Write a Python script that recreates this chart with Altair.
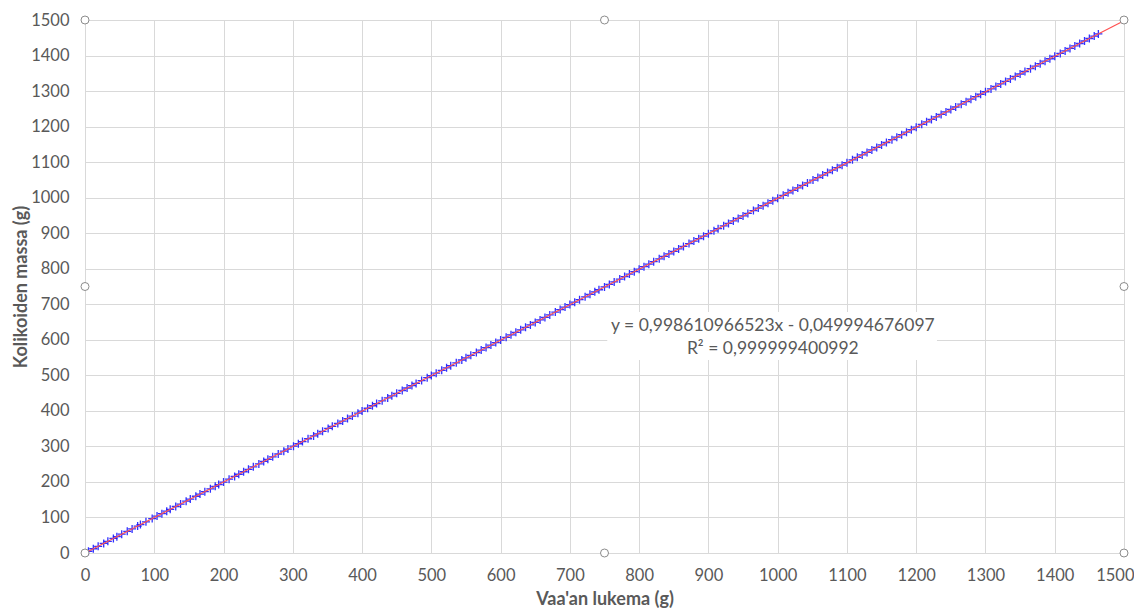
import altair as alt
import pandas as pd

x_vals = [5, 12, 19, 27, 33, 41, 46, 53, 61, 68, 76, 80, 88, 97, 104, 111, 118, 123, 131, 138,
          146, 152, 160, 166, 173, 181, 188, 193, 200, 208, 216, 222, 229, 236, 243, 251, 258, 264, 271, 279,
          287, 293, 301, 308, 314, 322, 330, 336, 343, 351, 357, 365, 372, 379, 386, 394, 400, 408, 415, 421,
          429, 437, 443, 450, 458, 465, 472, 478, 486, 494, 500, 507, 515, 522, 528, 536, 544, 550, 557, 565,
          572, 579, 586, 593, 600, 608, 615, 622, 629, 636, 643, 650, 657, 664, 671, 679, 686, 693, 700, 707,
          714, 722, 729, 736, 742, 750, 757, 764, 772, 779, 786, 793, 800, 807, 814, 821, 829, 836, 843, 850,
          857, 864, 872, 879, 886, 893, 900, 908, 914, 922, 929, 936, 943, 950, 957, 965, 972, 979, 986, 993,
          1000, 1008, 1015, 1022, 1029, 1036, 1043, 1051, 1058, 1065, 1072, 1079, 1086, 1093, 1100, 1108, 1115, 1122, 1129, 1136,
          1143, 1150, 1157, 1165, 1172, 1179, 1186, 1193, 1200, 1208, 1215, 1222, 1229, 1236, 1243, 1250, 1257, 1265, 1272, 1279,
          1286, 1293, 1300, 1308, 1315, 1322, 1329, 1336, 1343, 1350, 1357, 1365, 1372, 1379, 1386, 1393, 1400, 1408, 1415, 1422,
          1429, 1436, 1443, 1450, 1457, 1463]

y_vals = [4.9, 11.9, 18.9, 26.9, 32.9, 40.9, 45.9, 52.9, 60.9, 67.8, 75.8, 79.9, 87.8, 96.8, 103.8, 110.8, 117.8, 122.8, 130.8, 137.7,
          145.8, 151.7, 159.7, 165.7, 172.7, 180.7, 187.7, 192.7, 199.7, 207.7, 215.6, 221.6, 228.6, 235.6, 242.6, 250.6, 257.6, 263.6, 270.6, 278.6,
          286.5, 292.5, 300.5, 307.5, 313.5, 321.5, 329.5, 335.5, 342.5, 350.5, 356.4, 364.4, 371.4, 378.4, 385.4, 393.4, 399.4, 407.4, 414.4, 420.4,
          428.4, 436.3, 442.3, 449.3, 457.3, 464.3, 471.3, 477.3, 485.3, 493.3, 499.2, 506.2, 514.2, 521.2, 527.2, 535.2, 543.2, 549.2, 556.2, 564.1,
          571.1, 578.1, 585.1, 592.1, 599.1, 607.1, 614.1, 621.1, 628.1, 635.1, 642.0, 649.0, 656.0, 663.0, 670.0, 678.0, 685.0, 692.0, 699.0, 706.0,
          712.9, 720.9, 727.9, 734.9, 740.9, 748.9, 755.9, 762.9, 770.9, 777.9, 784.9, 791.8, 798.8, 805.8, 812.8, 819.8, 827.8, 834.8, 841.8, 848.8,
          855.8, 862.7, 870.7, 877.7, 884.7, 891.7, 898.7, 906.7, 912.7, 920.7, 927.6, 934.6, 941.6, 948.6, 955.6, 963.6, 970.6, 977.6, 984.6, 991.6,
          998.6, 1006.5, 1013.5, 1020.5, 1027.5, 1034.5, 1041.5, 1049.5, 1056.5, 1063.5, 1070.5, 1077.4, 1084.4, 1091.4, 1098.4, 1106.4, 1113.4, 1120.4, 1127.4, 1134.4,
          1141.4, 1148.3, 1155.3, 1163.3, 1170.3, 1177.3, 1184.3, 1191.3, 1198.3, 1206.3, 1213.3, 1220.2, 1227.2, 1234.2, 1241.2, 1248.2, 1255.2, 1263.2, 1270.2, 1277.2,
          1284.2, 1291.1, 1298.1, 1306.1, 1313.1, 1320.1, 1327.1, 1334.1, 1341.1, 1348.1, 1355.1, 1363.0, 1370.0, 1377.0, 1384.0, 1391.0, 1398.0, 1406.0, 1413.0, 1420.0,
          1427.0, 1433.9, 1440.9, 1447.9, 1454.9, 1460.9]

tick_values = [0, 100, 200, 300, 400, 500, 600, 700, 800, 900, 1000, 1100, 1200, 1300, 1400, 1500]

# Excel selection handles (in data coordinates)
handle_x = [0, 750, 1500, 0, 1500, 0, 750, 1500]
handle_y = [1500, 1500, 1500, 750, 750, 0, 0, 0]

eq_lines = ["y = 0,998610966523x - 0,049994676097", "R² = 0,999999400992"]
eq_x = [993, 993]
eq_y = [640, 573]

label_box = {"x": [754], "x2": [1230], "y": [543], "y2": [678]}

FONT = "Lato"
GRAY = "#595959"

df = pd.DataFrame({"x": x_vals, "y": y_vals})
df_handles = pd.DataFrame({"x": handle_x, "y": handle_y})
df_eq = pd.DataFrame({"x": eq_x, "y": eq_y, "t": eq_lines})
df_box = pd.DataFrame(label_box)

xscale = alt.Scale(domain=[0, 1500], nice=False)
yscale = alt.Scale(domain=[0, 1500], nice=False)

common_axis = dict(values=tick_values, format="d", labelOverlap=False, labelFlush=False,
                   grid=True, gridColor="#d9d9d9", domain=False, ticks=False,
                   labelFont=FONT, labelFontSize=16.5, labelColor=GRAY,
                   titleFont=FONT, titleFontSize=18, titleFontWeight="bold", titleColor=GRAY)
xaxis = alt.Axis(title="Vaa'an lukema (g)", labelPadding=14, titlePadding=7,
                 labelAlign={"condition": {"test": "datum.value === 1500", "value": "right"},
                             "value": "center"},
                 labelOffset={"condition": {"test": "datum.value === 1500", "value": 10},
                              "value": 0},
                 **common_axis)
yaxis = alt.Axis(title="Kolikoiden massa (g)", labelPadding=16, titlePadding=0, **common_axis)

X = alt.X("x:Q", scale=xscale, axis=xaxis)
Y = alt.Y("y:Q", scale=yscale, axis=yaxis)

base = alt.Chart(df)

points = base.mark_point(shape="M-1,0L1,0M0,-1L0,1", filled=False, size=64,
                         color="#1a1aff", strokeWidth=1.3, opacity=0.9).encode(x=X, y=Y)

trend = base.transform_regression("x", "y", extent=[0, 1500]).mark_line(
    color="#ff5050", strokeWidth=1.2).encode(x=X, y=Y)

box = alt.Chart(df_box).mark_rect(fill="white").encode(
    x=X, x2="x2:Q", y=Y, y2="y2:Q")

eq = alt.Chart(df_eq).mark_text(font=FONT, fontSize=17.5, color=GRAY, align="center",
                                baseline="middle").encode(
    x=X, y=Y, text="t:N")

handles = alt.Chart(df_handles).mark_point(shape="circle", filled=True, fill="white",
                                           stroke="#8c8c8c", strokeWidth=1, size=64,
                                           opacity=1).encode(x=X, y=Y)

chart = alt.layer(box, points, trend, eq, handles).properties(
    width=1039, height=533,
    autosize="none",
    padding={"left": 77, "top": 12, "right": 10, "bottom": 58},
).configure_view(stroke="#a6a6a6", strokeWidth=1.2).configure(background="white")

chart.save("out.html", embed_options={"renderer": "svg", "actions": False})
